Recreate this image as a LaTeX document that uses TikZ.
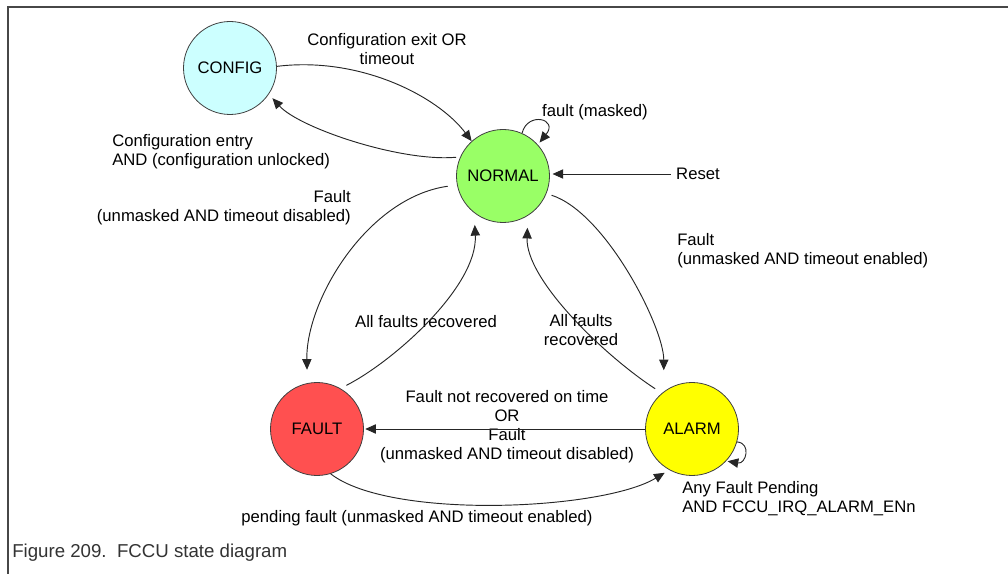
\documentclass[tikz,border=0pt]{standalone}
\usepackage{fontspec}
\setmainfont{Liberation Sans}
\usetikzlibrary{arrows.meta}
\newcommand\dfont{\fontsize{12.5}{14.25}\selectfont}
\definecolor{cfgc}{HTML}{CCFFFF}
\definecolor{normc}{HTML}{99FF66}
\definecolor{faultc}{HTML}{FF5050}
\definecolor{alarmc}{HTML}{FFFF00}
\begin{document}
\begin{tikzpicture}[x=0.75pt,y=-0.75pt,
  state/.style={circle,draw=black!75,line width=0.6pt,minimum size=69.75pt,inner sep=0pt,font=\dfont},
  lbl/.style={font=\dfont,inner sep=0pt},
  conn/.style={draw=black!85,line width=0.7pt,-{Triangle[length=8pt,width=7pt]}},
  frame/.style={draw=black!72,line width=1.7pt}]
\useasboundingbox (0,0) rectangle (1008,574);
\draw[frame] (8,574) -- (8,7) -- (1008,7);

\node[state,fill=cfgc]   (config) at (230,68)  {CONFIG};
\node[state,fill=normc]  (normal) at (503,176) {NORMAL};
\node[state,fill=faultc] (fault)  at (317,429) {FAULT};
\node[state,fill=alarmc] (alarm)  at (692,429) {ALARM};

\node[lbl,align=center] (cfgexit) at (387,49) {Configuration exit OR\\timeout};
\node[lbl,align=left,anchor=west] (cfgentry) at (112,152) {Configuration entry\\AND (configuration unlocked)};
\node[lbl] (masked) at (595,112) {fault (masked)};
\node[lbl,inner sep=4pt] (reset) at (698,174) {Reset};
\node[lbl,align=right,anchor=east] (fdis) at (351,207.5) {Fault\\(unmasked AND timeout disabled)};
\node[lbl,align=left,anchor=west] (fen) at (677,250.5) {Fault\\(unmasked AND timeout enabled)};
\node[lbl] (rec1) at (426,322) {All faults recovered};
\node[lbl,align=center] (rec2) at (581,330.5) {All faults\\recovered};
\node[lbl,align=center] (notrec) at (507,426.5) {Fault not recovered on time\\OR\\Fault\\(unmasked AND timeout disabled)};
\node[lbl] (pend) at (417,518) {pending fault (unmasked AND timeout enabled)};
\node[lbl,align=left,anchor=west] (anyf) at (682,499) {Any Fault Pending\\AND FCCU\_IRQ\_ALARM\_ENn};
\node[inner sep=0pt,anchor=west,text=black!80,font=\fontsize{14}{16}\selectfont] (caption) at (12,553) {Figure 209.\ \ FCCU state diagram};

% CONFIG -> NORMAL
\draw[conn] (config.2) to[out=7,in=127,out distance=63pt,in distance=42pt] (normal.132);
% NORMAL -> CONFIG
\draw[conn,shorten <=3pt,shorten >=4pt] (normal.156) to[out=185,in=-48,out distance=45pt,in distance=34pt] (config.-34);
% NORMAL -> FAULT
\draw[conn,shorten <=7pt,shorten >=10pt] (normal.191) to[out=188,in=91,out distance=68pt,in distance=62pt] (fault.102);
% FAULT -> NORMAL
\draw[conn,shorten <=5pt,shorten >=9pt] (fault.60) to[out=27,in=-87,out distance=45pt,in distance=55pt] (normal.-128);
% NORMAL -> ALARM
\draw[conn,shorten <=4pt,shorten >=16pt] (normal.-22) to[out=-18,in=90,out distance=47pt,in distance=48pt] (alarm.127);
% ALARM -> NORMAL
\draw[conn,shorten <=6pt,shorten >=9pt] (alarm.130) to[out=147,in=-92,out distance=51pt,in distance=48pt] (normal.-58);
% ALARM -> FAULT
\draw[conn,shorten >=1pt] (alarm.180) -- (fault.0);
% FAULT -> ALARM
\draw[conn,shorten >=4pt] (fault.-73) to[out=-38,in=211,out distance=56pt,in distance=59pt] (alarm.241);
% NORMAL self loop
\draw[conn,shorten >=2pt] (normal.66) to[out=76,in=51,out distance=17pt,in distance=25pt] (normal.42);
% ALARM self loop
\draw[conn,shorten >=1pt] (alarm.-16) to[out=-5,in=-10,out distance=11pt,in distance=15pt] (alarm.-43);
% Reset
\draw[conn,shorten >=2pt] (reset.west) -- (reset.west -| normal.east);
\end{tikzpicture}
\end{document}
